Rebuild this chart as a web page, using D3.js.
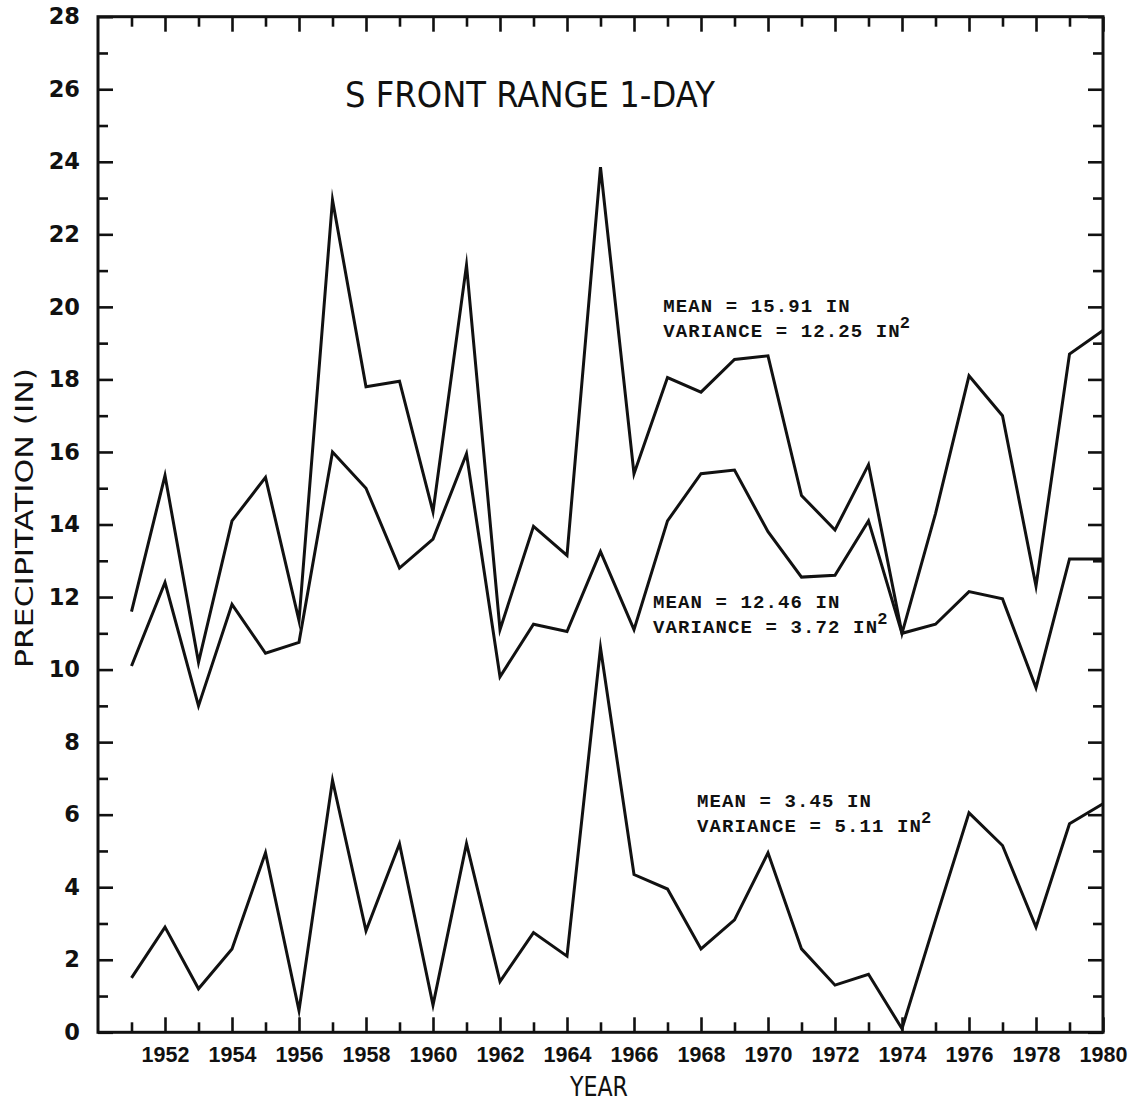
<!DOCTYPE html>
<html>
<head>
<meta charset="utf-8">
<script src="https://cdn.jsdelivr.net/npm/d3@7"></script>
<style>
  html, body { margin: 0; padding: 0; background: #fff; }
  svg { display: block; }
  .stat { font-family: "Liberation Mono", "DejaVu Sans Mono", monospace; font-weight: bold; font-size: 19px; letter-spacing: 1.1px; fill: #111; }
</style>
</head>
<body>
<svg id="chart" width="1133" height="1102"></svg>
<script>
// Annual precipitation series, South Front Range, 1951-1980 (inches)
const years = [1951, 1952, 1953, 1954, 1955, 1956, 1957, 1958, 1959, 1960,
               1961, 1962, 1963, 1964, 1965, 1966, 1967, 1968, 1969, 1970,
               1971, 1972, 1973, 1974, 1975, 1976, 1977, 1978, 1979, 1980];

const upperSeries = [11.6, 15.35, 10.2, 14.1, 15.3, 11.35, 22.95, 17.8, 17.95, 14.35,
                     21.15, 11.1, 13.95, 13.15, 23.85, 15.4, 18.05, 17.65, 18.55, 18.65,
                     14.8, 13.85, 15.65, 11.0, 14.3, 18.1, 17.0, 12.3, 18.7, 19.35];

const middleSeries = [10.1, 12.4, 9.0, 11.8, 10.45, 10.75, 16.0, 15.0, 12.8, 13.6,
                      15.95, 9.8, 11.25, 11.05, 13.25, 11.1, 14.1, 15.4, 15.5, 13.8,
                      12.55, 12.6, 14.1, 11.0, 11.25, 12.15, 11.95, 9.5, 13.05, 13.05];

const lowerSeries = [1.5, 2.9, 1.2, 2.3, 4.95, 0.6, 6.95, 2.8, 5.2, 0.75,
                     5.2, 1.4, 2.75, 2.1, 10.6, 4.35, 3.95, 2.3, 3.1, 4.95,
                     2.3, 1.3, 1.6, 0.1, 3.1, 6.05, 5.15, 2.9, 5.75, 6.3];

const xMajorTicks = [1952, 1954, 1956, 1958, 1960, 1962, 1964, 1966, 1968, 1970, 1972, 1974, 1976, 1978, 1980];
const xMinorTicks = [1951, 1953, 1955, 1957, 1959, 1961, 1963, 1965, 1967, 1969, 1971, 1973, 1975, 1977, 1979];
const yMajorTicks = [0, 2, 4, 6, 8, 10, 12, 14, 16, 18, 20, 22, 24, 26, 28];
const yMinorTicks = [1, 3, 5, 7, 9, 11, 13, 15, 17, 19, 21, 23, 25, 27];

// statistics blocks, anchored in data coordinates (year, inches)
const statLabels = [
  { mean: "MEAN = 15.91 IN", variance: "VARIANCE = 12.25 IN", year: 1966.87, value: 19.85 },
  { mean: "MEAN = 12.46 IN", variance: "VARIANCE = 3.72 IN",  year: 1966.57, value: 11.7 },
  { mean: "MEAN = 3.45 IN",  variance: "VARIANCE = 5.11 IN",  year: 1967.88, value: 6.22 }
];

const title = "S FRONT RANGE 1-DAY";
const xTitle = "YEAR";
const yTitle = "PRECIPITATION  (IN)";

// ---- layout ----
const plotLeft = 98, plotRight = 1103, plotTop = 16.7, plotBottom = 1032.3;
const svg = d3.select("#chart");

const x = d3.scaleLinear().domain([1950, 1980]).range([plotLeft, plotRight]);
const y = d3.scaleLinear().domain([0, 28]).range([plotBottom, plotTop]);

const ink = "#111";

function styleAxis(g) {
  g.select(".domain").remove();
  g.selectAll(".tick line").attr("stroke", ink).attr("stroke-width", 2.6);
}

// bottom axis: inward ticks, labels on even years
svg.append("g").attr("transform", `translate(0,${plotBottom})`)
  .call(d3.axisBottom(x).tickValues(xMajorTicks).tickSizeInner(-15).tickSizeOuter(0).tickPadding(14).tickFormat(d3.format("d")))
  .call(styleAxis)
  .call(g => g.selectAll("text")
    .attr("fill", ink)
    .style("font-family", "'Liberation Sans', Arial, sans-serif")
    .style("font-weight", "bold")
    .style("font-size", "21.5px"));
svg.append("g").attr("transform", `translate(0,${plotBottom})`)
  .call(d3.axisBottom(x).tickValues(xMinorTicks).tickSizeInner(-10).tickSizeOuter(0).tickFormat(""))
  .call(styleAxis);

// top axis: inward ticks, no labels
svg.append("g").attr("transform", `translate(0,${plotTop})`)
  .call(d3.axisTop(x).tickValues(xMajorTicks).tickSizeInner(-15).tickSizeOuter(0).tickFormat(""))
  .call(styleAxis);
svg.append("g").attr("transform", `translate(0,${plotTop})`)
  .call(d3.axisTop(x).tickValues(xMinorTicks).tickSizeInner(-10).tickSizeOuter(0).tickFormat(""))
  .call(styleAxis);

// left axis: inward ticks, labels on even values
svg.append("g").attr("transform", `translate(${plotLeft},0)`)
  .call(d3.axisLeft(y).tickValues(yMajorTicks).tickSizeInner(-15).tickSizeOuter(0).tickPadding(18).tickFormat(d3.format("d")))
  .call(styleAxis)
  .call(g => g.selectAll("text")
    .attr("fill", ink)
    .style("font-family", "'DejaVu Sans', sans-serif")
    .style("font-weight", "bold")
    .style("font-size", "22.5px"));
svg.append("g").attr("transform", `translate(${plotLeft},0)`)
  .call(d3.axisLeft(y).tickValues(yMinorTicks).tickSizeInner(-10).tickSizeOuter(0).tickFormat(""))
  .call(styleAxis);

// right axis: inward ticks
svg.append("g").attr("transform", `translate(${plotRight},0)`)
  .call(d3.axisRight(y).tickValues(yMajorTicks).tickSizeInner(-15).tickSizeOuter(0).tickFormat(""))
  .call(styleAxis);
svg.append("g").attr("transform", `translate(${plotRight},0)`)
  .call(d3.axisRight(y).tickValues(yMinorTicks).tickSizeInner(-10).tickSizeOuter(0).tickFormat(""))
  .call(styleAxis);

// plot frame
svg.append("rect")
  .attr("x", plotLeft).attr("y", plotTop)
  .attr("width", plotRight - plotLeft).attr("height", plotBottom - plotTop)
  .attr("fill", "none").attr("stroke", ink).attr("stroke-width", 3);

// series lines
const line = d3.line().x((d, i) => x(years[i])).y(d => y(d));
[upperSeries, middleSeries, lowerSeries].forEach(s => {
  svg.append("path")
    .datum(s)
    .attr("d", line)
    .attr("fill", "none")
    .attr("stroke", ink)
    .attr("stroke-width", 3)
    .attr("stroke-linejoin", "miter")
    .attr("stroke-miterlimit", 10);
});

// title
svg.append("text")
  .attr("x", 345).attr("y", 107)
  .attr("textLength", 370).attr("lengthAdjust", "spacingAndGlyphs")
  .style("font-family", "'DejaVu Sans', sans-serif")
  .style("font-size", "35px")
  .attr("fill", ink)
  .text(title);

// axis titles
svg.append("text")
  .attr("x", 599).attr("y", 1096)
  .attr("text-anchor", "middle")
  .attr("textLength", 58).attr("lengthAdjust", "spacingAndGlyphs")
  .style("font-family", "'DejaVu Sans', sans-serif")
  .style("font-size", "27px")
  .attr("fill", ink)
  .text(xTitle);

svg.append("text")
  .attr("transform", `translate(33,${518}) rotate(-90)`)
  .attr("text-anchor", "middle")
  .attr("textLength", 300).attr("lengthAdjust", "spacingAndGlyphs")
  .style("font-family", "'DejaVu Sans', sans-serif")
  .style("font-size", "24px")
  .attr("fill", ink)
  .text(yTitle);

// mean / variance annotations
statLabels.forEach(s => {
  const g = svg.append("g").attr("transform", `translate(${x(s.year)},${y(s.value)})`);
  g.append("text").attr("class", "stat").attr("x", 0).attr("y", 0).text(s.mean);
  const v = g.append("text").attr("class", "stat").attr("x", 0).attr("y", 25).text(s.variance);
  const w = v.node().getComputedTextLength();
  g.append("text").attr("class", "stat")
    .attr("x", w - 1).attr("y", 16)
    .style("font-size", "17px")
    .text("2");
});
</script>
</body>
</html>
